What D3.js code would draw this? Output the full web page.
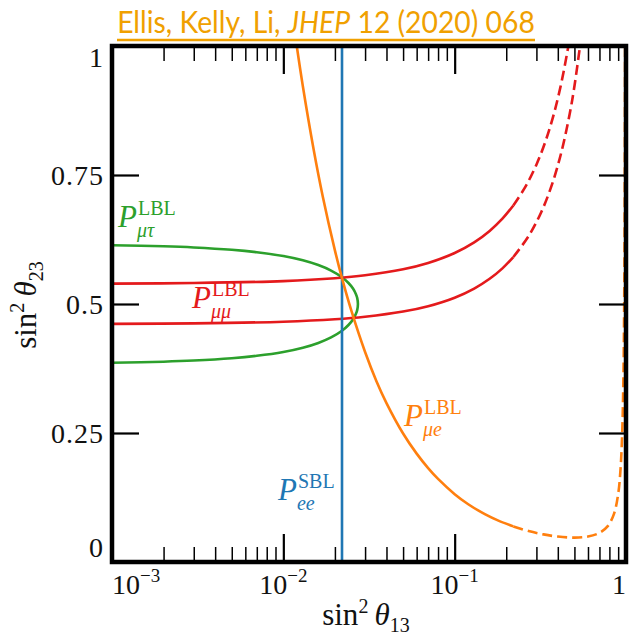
<!DOCTYPE html>
<html>
<head>
<meta charset="UTF-8">
<title>sin2 theta13 vs sin2 theta23</title>
<script src="https://cdn.jsdelivr.net/npm/d3@7"></script>
<style>
  body { margin: 0; background: #fff; }
  svg { display: block; }
</style>
</head>
<body>
<div id="chart"></div>
<script>
// values as (sin^2 theta13, sin^2 theta23)

// P_ee SBL: vertical line
const peeSBL = 0.022;

// P_mue LBL
const mueSolidX = [0.0120, 0.013, 0.015, 0.017, 0.02, 0.022, 0.025, 0.03, 0.035, 0.04, 0.05, 0.06, 0.07, 0.08, 0.1, 0.12, 0.15, 0.18, 0.22];
const mueSolidY = [0.998, 0.922, 0.801, 0.708, 0.604, 0.550, 0.486, 0.407, 0.350, 0.308, 0.249, 0.210, 0.182, 0.161, 0.1315, 0.112, 0.0928, 0.0802, 0.0690];
const mueDashX = [0.22, 0.27, 0.33, 0.4, 0.5, 0.6, 0.7, 0.78, 0.85, 0.9, 0.93, 0.95, 0.965, 0.975, 0.982, 0.988];
const mueDashY = [0.0690, 0.0600, 0.0535, 0.0493, 0.0473, 0.0493, 0.0564, 0.0690, 0.0928, 0.1315, 0.182, 0.249, 0.350, 0.486, 0.670, 0.998];

// P_mumu LBL: two branches
const mumuSolidX = [0.001, 0.003, 0.01, 0.02, 0.03, 0.05, 0.07, 0.1, 0.13, 0.16, 0.19, 0.22];
const mumuUpSolidY = [0.5395, 0.5406, 0.5444, 0.5500, 0.5557, 0.5674, 0.5796, 0.5989, 0.6195, 0.6417, 0.6654, 0.6910];
const mumuLoSolidY = [0.4615, 0.4624, 0.4657, 0.4704, 0.4753, 0.4853, 0.4957, 0.5122, 0.5299, 0.5488, 0.5691, 0.5910];
const mumuUpDashX = [0.22, 0.26, 0.3, 0.34, 0.38, 0.42, 0.461];
const mumuUpDashY = [0.6910, 0.7284, 0.7700, 0.8167, 0.8694, 0.9293, 1.0];
const mumuLoDashX = [0.22, 0.27, 0.32, 0.37, 0.42, 0.47, 0.5, 0.539];
const mumuLoDashY = [0.5910, 0.6315, 0.6779, 0.7317, 0.7948, 0.8698, 0.922, 1.0];

// P_mutau LBL: closed on the right at the tip
const mutauX = [0.001, 0.002, 0.003, 0.005, 0.007, 0.01, 0.013, 0.016, 0.019, 0.022, 0.024, 0.0255, 0.0265, 0.0270, 0.02725];
const mutauUpY = [0.6139, 0.6118, 0.6096, 0.6051, 0.6004, 0.5930, 0.5847, 0.5754, 0.5647, 0.5518, 0.5407, 0.5300, 0.5195, 0.5114, 0.5];
const mutauLoY = [0.3861, 0.3882, 0.3904, 0.3949, 0.3996, 0.4070, 0.4153, 0.4246, 0.4353, 0.4482, 0.4593, 0.4700, 0.4805, 0.4886, 0.5];

// ticks
const yTicks = [0, 0.25, 0.5, 0.75, 1];
const yTickLabels = ["0", "0.25", "0.5", "0.75", "1"];
const xTickLabels = [["10", "\u22123"], ["10", "\u22122"], ["10", "\u22121"], ["1", ""]];

const W = 629, H = 635;
const m = {left: 112, right: 626, top: 46, bottom: 562};
const serif = "'Liberation Serif', 'DejaVu Serif', serif";
const col = {green: "#2ca02c", red: "#e41a1c", blue: "#1f77b4", orange: "#ff7f0e"};

const x = d3.scaleLog().domain([1e-3, 1]).range([m.left, m.right]);
const y = d3.scaleLinear().domain([0, 1]).range([m.bottom, m.top]);

const svg = d3.select("#chart").append("svg").attr("width", W).attr("height", H);

svg.append("clipPath").attr("id", "clip").append("rect")
  .attr("x", m.left).attr("y", m.top)
  .attr("width", m.right - m.left).attr("height", m.bottom - m.top);

const zip = (a, b) => a.map((v, i) => [v, b[i]]);
const line = d3.line().x(d => x(d[0])).y(d => y(d[1])).curve(d3.curveCatmullRom.alpha(0.5));

const plot = svg.append("g").attr("clip-path", "url(#clip)");

function curve(pts, color, dashed) {
  plot.append("path")
    .attr("d", line(pts))
    .attr("fill", "none")
    .attr("stroke", color)
    .attr("stroke-width", 2.6)
    .attr("stroke-dasharray", dashed ? "10,5" : null);
}

// green loop: upper branch out to the tip, lower branch back
const mutauPts = zip(mutauX, mutauUpY).concat(zip(mutauX, mutauLoY).reverse().slice(1));
curve(mutauPts, col.green, false);

curve(zip(mumuSolidX, mumuUpSolidY), col.red, false);
curve(zip(mumuSolidX, mumuLoSolidY), col.red, false);
curve(zip(mumuUpDashX, mumuUpDashY), col.red, true);
curve(zip(mumuLoDashX, mumuLoDashY), col.red, true);

plot.append("line")
  .attr("x1", x(peeSBL)).attr("x2", x(peeSBL))
  .attr("y1", y(0)).attr("y2", y(1))
  .attr("stroke", col.blue).attr("stroke-width", 2.6);

curve(zip(mueSolidX, mueSolidY), col.orange, false);
curve(zip(mueDashX, mueDashY), col.orange, true);

// ticks, all pointing inwards
const allX = x.ticks();
const isDecade = d => Math.abs(Math.log10(d) - Math.round(Math.log10(d))) < 1e-9;
const majorX = allX.filter(d => isDecade(d) && d > 1e-3 && d < 1);
const minorX = allX.filter(d => !isDecade(d));

function tickAxis(axis, tx, ty, sw) {
  svg.append("g").attr("transform", `translate(${tx},${ty})`)
    .call(axis)
    .call(g => g.select(".domain").remove())
    .call(g => g.selectAll("line").attr("stroke", "#000").attr("stroke-width", sw));
}
tickAxis(d3.axisBottom(x).tickValues(minorX).tickSize(-15).tickFormat(""), 0, m.bottom, 1.5);
tickAxis(d3.axisBottom(x).tickValues(majorX).tickSize(-28).tickFormat(""), 0, m.bottom, 2.2);
tickAxis(d3.axisTop(x).tickValues(minorX).tickSize(-15).tickFormat(""), 0, m.top, 1.5);
tickAxis(d3.axisTop(x).tickValues(majorX).tickSize(-28).tickFormat(""), 0, m.top, 2.2);
tickAxis(d3.axisLeft(y).tickValues([0.25, 0.5, 0.75]).tickSize(-27).tickFormat(""), m.left, 0, 2.2);
tickAxis(d3.axisRight(y).tickValues([0.25, 0.5, 0.75]).tickSize(-27).tickFormat(""), m.right, 0, 2.2);

// frame
svg.append("rect")
  .attr("x", m.left).attr("y", m.top)
  .attr("width", m.right - m.left).attr("height", m.bottom - m.top)
  .attr("fill", "none").attr("stroke", "#000").attr("stroke-width", 4.5);

// x tick labels
const xDecades = [1e-3, 1e-2, 1e-1, 1];
xDecades.forEach((d, i) => {
  const anchor = i === 0 ? "start" : (i === xDecades.length - 1 ? "end" : "middle");
  const t = svg.append("text")
    .attr("x", x(d)).attr("y", 594)
    .attr("text-anchor", anchor)
    .attr("font-family", serif).attr("font-size", 28).attr("fill", "#111");
  t.append("tspan").text(xTickLabels[i][0]);
  if (xTickLabels[i][1]) {
    t.append("tspan").attr("dy", -12).attr("font-size", 19).text(xTickLabels[i][1]);
  }
});

// y tick labels
yTicks.forEach((v, i) => {
  const off = v === 1 ? 21 : (v === 0 ? -5 : 10);
  svg.append("text")
    .attr("x", 104).attr("y", y(v) + off)
    .attr("text-anchor", "end")
    .attr("font-family", serif).attr("font-size", 28).attr("letter-spacing", 1)
    .attr("fill", "#111")
    .text(yTickLabels[i]);
});

// axis titles
function axisTitle(g, sub) {
  g.attr("font-family", serif).attr("font-size", 31).attr("fill", "#111");
  g.append("tspan").text("sin");
  g.append("tspan").attr("dy", -12).attr("font-size", 20).text("2");
  g.append("tspan").attr("dy", 12).attr("font-style", "italic").text("\u2009\u03b8");
  g.append("tspan").attr("dy", 7).attr("font-size", 20).text(sub);
}
axisTitle(svg.append("text").attr("x", 366).attr("y", 625).attr("text-anchor", "middle"), "13");
axisTitle(svg.append("text").attr("transform", "translate(36,305) rotate(-90)").attr("text-anchor", "middle"), "23");

// curve labels: P with superscript and subscript in one text
function mathLabel(px, py, color, sub, sup) {
  const t = svg.append("text").attr("x", px).attr("y", py)
    .attr("fill", color).attr("font-family", serif);
  t.append("tspan").attr("font-size", 31).attr("font-style", "italic").text("P");
  const s = t.append("tspan").attr("dx", 1).attr("dy", -12).attr("font-size", 20).text(sup);
  const sw = s.node().getComputedTextLength();
  t.append("tspan").attr("dx", -sw - 1).attr("dy", 22)
    .attr("font-size", 20).attr("font-style", "italic").text(sub);
}
mathLabel(118, 227, col.green, "\u03bc\u03c4", "LBL");
mathLabel(192, 308, col.red, "\u03bc\u03bc", "LBL");
mathLabel(404, 426, col.orange, "\u03bce", "LBL");
mathLabel(278, 500, col.blue, "ee", "SBL");

// title with underline, squeezed to the reference width
const titleColor = "#f0a000";
const title = svg.append("text")
  .attr("x", 0).attr("y", 0)
  .attr("text-anchor", "middle")
  .attr("font-family", "Lato, 'Open Sans', sans-serif")
  .attr("font-size", 30).attr("fill", titleColor);
title.append("tspan").text("Ellis, Kelly, Li, ");
title.append("tspan").attr("font-style", "italic").text("JHEP");
title.append("tspan").text(" 12 (2020) 068");
const tw = title.node().getComputedTextLength();
title.attr("transform", `translate(326,33) scale(${418 / tw},1)`);
svg.append("line")
  .attr("x1", 117).attr("x2", 535).attr("y1", 40).attr("y2", 40)
  .attr("stroke", titleColor).attr("stroke-width", 2.5);
</script>
</body>
</html>
